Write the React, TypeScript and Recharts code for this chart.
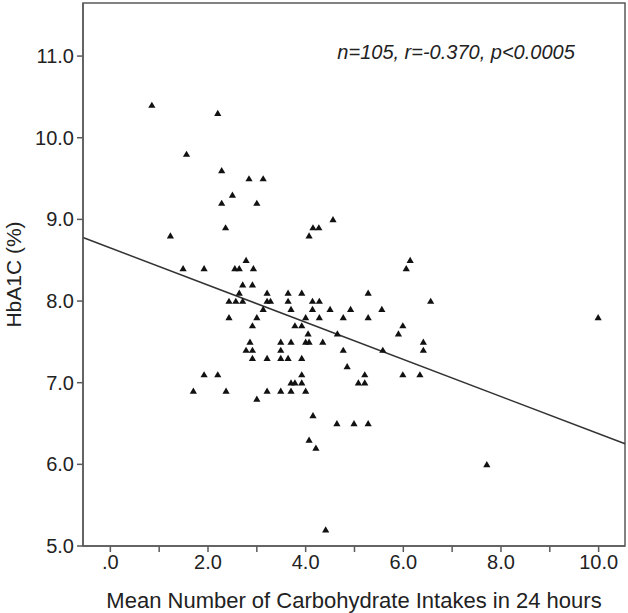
import {
  ScatterChart, Scatter, XAxis, YAxis,
  ReferenceLine, ReferenceArea, ReferenceDot,
} from "recharts";

// mean carbohydrate intakes per 24h (x) and HbA1C % (y), one entry per patient
const carbIntakes = [
  0.85, 2.2, 1.56, 2.28, 2.84, 3.13, 2.5, 2.28, 3.0, 2.36, 1.23, 4.07, 4.15, 4.27, 4.56, 6.14, 6.06,
  2.78, 1.49, 1.92, 2.55, 2.64, 2.93, 2.71, 2.91,
  2.64, 3.21, 3.64, 3.92, 5.28,
  2.43, 2.57, 2.71, 3.21, 3.28, 3.64, 4.14, 4.28, 6.56,
  3.13, 3.7, 4.14, 4.5, 4.92, 5.56,
  2.43, 3.0, 4.0, 4.28, 4.77, 5.28, 9.99,
  2.91, 3.78, 3.92, 5.99,
  4.05, 4.65, 5.9,
  2.86, 3.49, 3.7, 4.0, 4.07, 4.35, 6.41,
  2.78, 2.91, 3.49, 4.77, 5.58, 6.41,
  2.91, 3.21, 3.49, 3.64, 3.92,
  4.85,
  1.92, 2.2, 3.92, 5.21, 5.99, 6.34,
  3.7, 3.78, 3.92, 5.08, 5.21,
  1.7, 2.37, 3.21, 3.49, 3.7, 4.0,
  3.0, 4.15, 4.64, 4.99, 5.28, 4.07, 4.21, 7.71, 4.41,
];
const hba1c = [
  10.4, 10.3, 9.8, 9.6, 9.5, 9.5, 9.3, 9.2, 9.2, 8.9, 8.8, 8.8, 8.9, 8.9, 9.0, 8.5, 8.4,
  8.5, 8.4, 8.4, 8.4, 8.4, 8.4, 8.2, 8.2,
  8.1, 8.1, 8.1, 8.1, 8.1,
  8.0, 8.0, 8.0, 8.0, 8.0, 8.0, 8.0, 8.0, 8.0,
  7.9, 7.9, 7.9, 7.9, 7.9, 7.9,
  7.8, 7.8, 7.8, 7.8, 7.8, 7.8, 7.8,
  7.7, 7.7, 7.7, 7.7,
  7.6, 7.6, 7.6,
  7.5, 7.5, 7.5, 7.5, 7.5, 7.5, 7.5,
  7.4, 7.4, 7.4, 7.4, 7.4, 7.4,
  7.3, 7.3, 7.3, 7.3, 7.3,
  7.2,
  7.1, 7.1, 7.1, 7.1, 7.1, 7.1,
  7.0, 7.0, 7.0, 7.0, 7.0,
  6.9, 6.9, 6.9, 6.9, 6.9, 6.9,
  6.8, 6.6, 6.5, 6.5, 6.5, 6.3, 6.2, 6.0, 5.2,
];

const xTicks = [0, 1, 2, 3, 4, 5, 6, 7, 8, 9, 10];
const yTicks = [5, 6, 7, 8, 9, 10, 11];
const xDomain = [-0.56, 10.54];
const yDomain = [5, 11.65];

// fitted regression line
const fitIntercept = 8.65;
const fitSlope = -0.2275;
const statsText = "n=105, r=-0.370, p<0.0005";

const points = carbIntakes.map((x, i) => ({ x, y: hba1c[i] }));
const fitAt = (x: number) => fitIntercept + fitSlope * x;

const FONT = "'Liberation Sans', Arial, sans-serif";
const AXIS = "#5a5a5a";

// small filled triangle marker, like the SPSS default
const Triangle = (props: any) => {
  const { cx, cy } = props;
  if (cx == null || cy == null) return null;
  return (
    <polygon
      points={`${cx - 3.6},${cy + 2.8} ${cx + 3.6},${cy + 2.8} ${cx},${cy - 3.4}`}
      fill="#111"
    />
  );
};

export default function App() {
  return (
    <div style={{ position: "absolute", left: 0, top: 0, background: "#fff" }}>
      <ScatterChart width={628} height={613} margin={{ top: 3, right: 3, left: 0, bottom: 0 }}>
        <XAxis
          type="number"
          dataKey="x"
          domain={xDomain}
          ticks={xTicks}
          allowDataOverflow
          interval={0}
          height={67}
          tickSize={6}
          tickMargin={3}
          tickFormatter={(v: number) => (v % 2 !== 0 ? "" : v === 0 ? ".0" : v.toFixed(1))}
          tick={{ fontSize: 20, fill: "#222", fontFamily: FONT }}
          stroke={AXIS}
          strokeWidth={1.5}
          label={{
            value: "Mean Number of Carbohydrate Intakes in 24 hours",
            position: "insideBottom",
            offset: 5,
            style: { fontSize: 22, fill: "#222", fontFamily: FONT },
          }}
        />
        <YAxis
          type="number"
          dataKey="y"
          domain={yDomain}
          ticks={yTicks}
          allowDataOverflow
          interval={0}
          width={83}
          tickSize={6}
          tickMargin={3}
          tickFormatter={(v: number) => v.toFixed(1)}
          tick={{ fontSize: 20, fill: "#222", fontFamily: FONT }}
          stroke={AXIS}
          strokeWidth={1.5}
          label={{
            value: "HbA1C (%)",
            angle: -90,
            position: "insideLeft",
            offset: 14,
            style: { fontSize: 21, fill: "#222", fontFamily: FONT, textAnchor: "middle" },
          }}
        />
        <ReferenceArea
          x1={xDomain[0]} x2={xDomain[1]} y1={yDomain[0]} y2={yDomain[1]}
          fill="none" stroke={AXIS} strokeWidth={1.5} fillOpacity={0}
        />
        <ReferenceLine
          segment={[
            { x: xDomain[0], y: fitAt(xDomain[0]) },
            { x: xDomain[1], y: fitAt(xDomain[1]) },
          ]}
          stroke="#333"
          strokeWidth={1.5}
        />
        <ReferenceDot
          x={7.08}
          y={11.05}
          r={0}
          fill="none"
          stroke="none"
          label={{
            value: statsText,
            position: "center",
            style: { fontSize: 20, fontStyle: "italic", fill: "#222", fontFamily: FONT },
          }}
        />
        <Scatter data={points} shape={Triangle} isAnimationActive={false} />
      </ScatterChart>
    </div>
  );
}
